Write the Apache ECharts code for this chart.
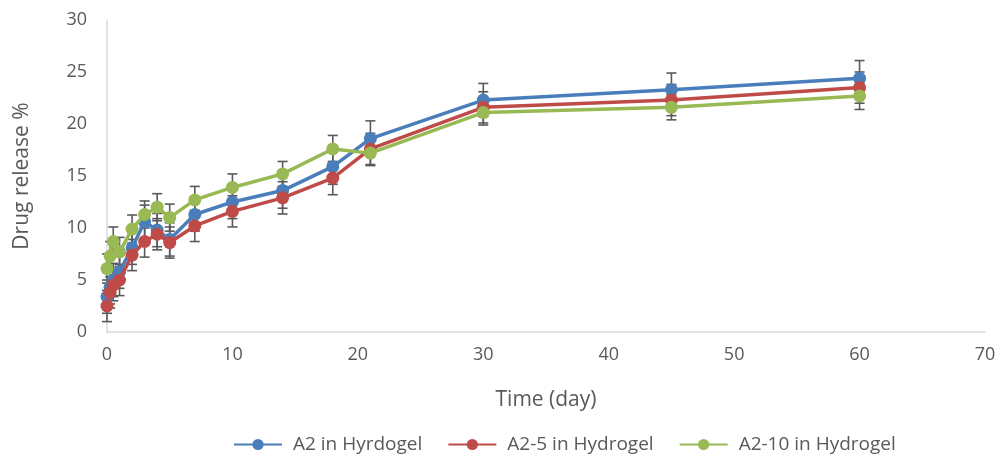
<!DOCTYPE html>
<html>
<head>
<meta charset="utf-8">
<script src="https://cdn.jsdelivr.net/npm/echarts@6/dist/echarts.min.js"></script>
<style>
html,body{margin:0;padding:0;background:#fff;}
#c{width:999px;height:464px;}
</style>
</head>
<body>
<div id="c"></div>
<script>
var times = [0, 0.25, 0.5, 1, 2, 3, 4, 5, 7, 10, 14, 18, 21, 30, 45, 60];
var a2 = [3.4, 4.3, 5.0, 5.8, 8.1, 10.6, 9.8, 8.9, 11.3, 12.5, 13.6, 15.9, 18.6, 22.3, 23.3, 24.4];
var a2_5 = [2.5, 3.8, 4.5, 5.0, 7.4, 8.7, 9.4, 8.6, 10.2, 11.6, 12.9, 14.8, 17.6, 21.6, 22.3, 23.5];
var a2_10 = [6.1, 7.3, 8.7, 7.7, 9.9, 11.3, 12.0, 11.0, 12.7, 13.9, 15.2, 17.6, 17.2, 21.1, 21.6, 22.7];
var a2Err = [1.6, 1.6, 1.6, 1.6, 1.6, 1.6, 1.6, 1.6, 1.6, 1.6, 1.7, 1.7, 1.7, 1.6, 1.6, 1.7];
var a2_5Err = [1.5, 1.5, 1.5, 1.5, 1.5, 1.5, 1.5, 1.5, 1.5, 1.5, 1.55, 1.6, 1.5, 1.5, 1.5, 1.5];
var a2_10Err = [1.4, 1.4, 1.4, 1.4, 1.35, 1.3, 1.3, 1.3, 1.3, 1.3, 1.2, 1.3, 1.2, 1.2, 1.2, 1.3];
var seriesNames = ['A2 in Hyrdogel', 'A2-5 in Hydrogel', 'A2-10 in Hydrogel'];
var colors = ['#4a7ebb', '#be4b48', '#98b954'];
var xTicks = [0, 10, 20, 30, 40, 50, 60, 70];
var yTicks = [0, 5, 10, 15, 20, 25, 30];

var FONT = 'Open Sans';
var values = [a2, a2_5, a2_10];
var errs = [a2Err, a2_5Err, a2_10Err];

function pairs(v){ return times.map(function(t,i){ return [t, v[i]]; }); }
function errData(v,e){ return times.map(function(t,i){ return [t, v[i]-e[i], v[i]+e[i]]; }); }

function renderErr(params, api){
  var x = api.value(0);
  var lo = api.coord([x, api.value(1)]);
  var hi = api.coord([x, api.value(2)]);
  var w = 5;
  var st = {stroke:'#5a5a5a', lineWidth:1.6};
  return {type:'group', children:[
    {type:'line', shape:{x1:lo[0], y1:lo[1], x2:hi[0], y2:hi[1]}, style:st},
    {type:'line', shape:{x1:lo[0]-w, y1:lo[1], x2:lo[0]+w, y2:lo[1]}, style:st},
    {type:'line', shape:{x1:hi[0]-w, y1:hi[1], x2:hi[0]+w, y2:hi[1]}, style:st}
  ]};
}

var series = [];
for (var k=0;k<3;k++){
  series.push({
    type:'custom', name:'err'+k, renderItem: renderErr, data: errData(values[k], errs[k]),
    encode:{x:0, y:[1,2]}, z:1, silent:true, animation:false
  });
}
for (var k=0;k<3;k++){
  series.push({
    type:'line', name: seriesNames[k], data: pairs(values[k]),
    symbol:'circle', symbolSize:13, z:2+k,
    lineStyle:{width:3.5, color:colors[k]},
    itemStyle:{color:colors[k]},
    animation:false
  });
}

var chart = echarts.init(document.getElementById('c'));
chart.setOption({
  backgroundColor:'#fff',
  textStyle:{fontFamily:FONT},
  grid:{left:107, right:14, top:20, bottom:132},
  legend:{
    data: seriesNames, bottom:5, left:228, itemWidth:48, itemHeight:14, itemGap:25,
    textStyle:{fontFamily:FONT, fontSize:19, color:'#595959', padding:[0,0,0,6]}
  },
  xAxis:{
    type:'value', min:xTicks[0], max:xTicks[xTicks.length-1], interval:10,
    name:'Time (day)', nameLocation:'middle', nameGap:58,
    nameTextStyle:{fontFamily:FONT, fontSize:21, color:'#595959'},
    axisLine:{show:true, onZero:false, lineStyle:{color:'#d9d9d9', width:1.5}},
    axisTick:{show:false}, splitLine:{show:false},
    axisLabel:{fontFamily:FONT, fontSize:18, color:'#595959', margin:14}
  },
  yAxis:{
    type:'value', min:yTicks[0], max:yTicks[yTicks.length-1], interval:5,
    name:'Drug release %', nameLocation:'middle', nameGap:74, nameRotate:90,
    nameTextStyle:{fontFamily:FONT, fontSize:21, color:'#595959'},
    axisLine:{show:true, lineStyle:{color:'#d9d9d9', width:1.5}},
    axisTick:{show:false}, splitLine:{show:false},
    axisLabel:{fontFamily:FONT, fontSize:18, color:'#595959', margin:20}
  },
  series: series
});
</script>
</body>
</html>
